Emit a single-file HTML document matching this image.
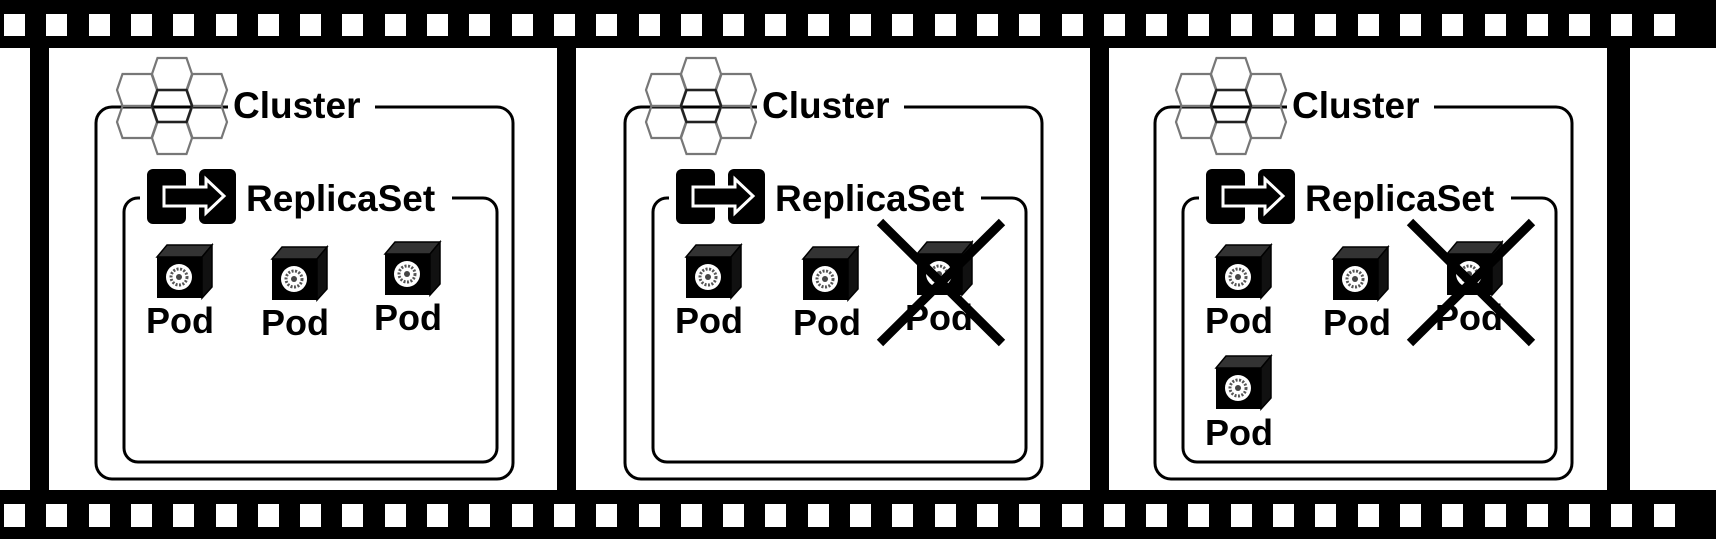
<!DOCTYPE html>
<html><head><meta charset="utf-8"><style>
html,body{margin:0;padding:0;background:#fff;}
svg{display:block;}
text{font-family:"Liberation Sans",sans-serif;fill:#000;font-weight:bold;}
</style></head><body>
<svg width="1716" height="539" viewBox="0 0 1716 539" xmlns="http://www.w3.org/2000/svg">
<defs>
  <polygon id="hexs" points="-20,0 -14.5,-16 14.5,-16 20,0 14.5,16 -14.5,16" fill="none" stroke="#777" stroke-width="2.2"/>
  <polygon id="hexc" points="-20,0 -14.5,-16 14.5,-16 20,0 14.5,16 -14.5,16" fill="none" stroke="#222" stroke-width="2.5"/>
  <g id="hexes">
    <use href="#hexs" x="137" y="90"/><use href="#hexs" x="137" y="122"/>
    <use href="#hexs" x="207" y="90"/><use href="#hexs" x="207" y="122"/>
    <use href="#hexs" x="172" y="74"/><use href="#hexs" x="172" y="138"/>
    <use href="#hexc" x="172" y="106"/>
  </g>
  <g id="rs">
    <rect x="147" y="169" width="39" height="55" rx="6" fill="#000"/>
    <rect x="199" y="169" width="37" height="55" rx="6" fill="#000"/>
    <polygon points="164,187 206,187 206,179 224,196 206,213 206,206 164,206" fill="#000" stroke="#fff" stroke-width="3"/>
  </g>
  <g id="pod">
    <polygon points="0,12 10,0 55,0 45,12" fill="#333" stroke="#000" stroke-width="1.5"/>
    <polygon points="45,12 55,0 55,42 45,53" fill="#111" stroke="#000" stroke-width="1.5"/>
    <rect x="0" y="12" width="45" height="41" fill="#000"/>
    <circle cx="22" cy="32" r="13" fill="#fff"/>
    <circle cx="22" cy="32" r="8" fill="none" stroke="#555" stroke-width="3" stroke-dasharray="2 1.5"/>
    <circle cx="22" cy="32" r="3" fill="#444"/>
  </g>
  <g id="frame">
    <rect x="96" y="107" width="417" height="372" rx="16" fill="none" stroke="#000" stroke-width="3"/>
    <rect x="228" y="95" width="147" height="25" fill="#fff"/>
    <use href="#hexes"/>
    <text x="233" y="118" font-size="37">Cluster</text>
    <rect x="124" y="198" width="373" height="264" rx="14" fill="none" stroke="#000" stroke-width="3"/>
    <rect x="140" y="185" width="312" height="25" fill="#fff"/>
    <use href="#rs"/>
    <text x="246" y="211" font-size="37">ReplicaSet</text>
  </g>
</defs>

<rect x="0" y="0" width="1716" height="48" fill="#000"/>
<rect x="0" y="490" width="1716" height="49" fill="#000"/>
<rect x="30" y="40" width="19" height="460" fill="#000"/>
<rect x="557" y="40" width="19" height="460" fill="#000"/>
<rect x="1090" y="40" width="19" height="460" fill="#000"/>
<rect x="1607" y="40" width="23" height="460" fill="#000"/>

<use href="#frame"/>
<use href="#pod" x="157" y="245"/><text x="146" y="333" font-size="36">Pod</text>
<use href="#pod" x="272" y="247"/><text x="261" y="335" font-size="36">Pod</text>
<use href="#pod" x="385" y="242"/><text x="374" y="330" font-size="36">Pod</text>

<g transform="translate(529,0)">
<use href="#frame"/>
<use href="#pod" x="157" y="245"/><text x="146" y="333" font-size="36">Pod</text>
<use href="#pod" x="274" y="247"/><text x="264" y="335" font-size="36">Pod</text>
<use href="#pod" x="388" y="242"/><text x="376" y="330" font-size="36">Pod</text>
<path d="M351,222 L473,343 M473,222 L351,343" stroke="#000" stroke-width="9"/>
</g>

<g transform="translate(1059,0)">
<use href="#frame"/>
<use href="#pod" x="157" y="245"/><text x="146" y="333" font-size="36">Pod</text>
<use href="#pod" x="274" y="247"/><text x="264" y="335" font-size="36">Pod</text>
<use href="#pod" x="388" y="242"/><text x="376" y="330" font-size="36">Pod</text>
<path d="M351,222 L473,343 M473,222 L351,343" stroke="#000" stroke-width="9"/>
<use href="#pod" x="157" y="356"/><text x="146" y="445" font-size="36">Pod</text>
</g>

<g fill="#fff">
<rect x="4" y="14" width="21" height="22"/><rect x="46" y="14" width="21" height="22"/><rect x="89" y="14" width="21" height="22"/><rect x="131" y="14" width="21" height="22"/><rect x="173" y="14" width="21" height="22"/><rect x="216" y="14" width="21" height="22"/><rect x="258" y="14" width="21" height="22"/><rect x="300" y="14" width="21" height="22"/><rect x="342" y="14" width="21" height="22"/><rect x="385" y="14" width="21" height="22"/><rect x="427" y="14" width="21" height="22"/><rect x="469" y="14" width="21" height="22"/><rect x="512" y="14" width="21" height="22"/><rect x="554" y="14" width="21" height="22"/><rect x="596" y="14" width="21" height="22"/><rect x="639" y="14" width="21" height="22"/><rect x="681" y="14" width="21" height="22"/><rect x="723" y="14" width="21" height="22"/><rect x="765" y="14" width="21" height="22"/><rect x="808" y="14" width="21" height="22"/><rect x="850" y="14" width="21" height="22"/><rect x="892" y="14" width="21" height="22"/><rect x="935" y="14" width="21" height="22"/><rect x="977" y="14" width="21" height="22"/><rect x="1019" y="14" width="21" height="22"/><rect x="1062" y="14" width="21" height="22"/><rect x="1104" y="14" width="21" height="22"/><rect x="1146" y="14" width="21" height="22"/><rect x="1188" y="14" width="21" height="22"/><rect x="1231" y="14" width="21" height="22"/><rect x="1273" y="14" width="21" height="22"/><rect x="1315" y="14" width="21" height="22"/><rect x="1358" y="14" width="21" height="22"/><rect x="1400" y="14" width="21" height="22"/><rect x="1442" y="14" width="21" height="22"/><rect x="1485" y="14" width="21" height="22"/><rect x="1527" y="14" width="21" height="22"/><rect x="1569" y="14" width="21" height="22"/><rect x="1611" y="14" width="21" height="22"/><rect x="1654" y="14" width="21" height="22"/>
<rect x="4" y="504" width="21" height="23"/><rect x="46" y="504" width="21" height="23"/><rect x="89" y="504" width="21" height="23"/><rect x="131" y="504" width="21" height="23"/><rect x="173" y="504" width="21" height="23"/><rect x="216" y="504" width="21" height="23"/><rect x="258" y="504" width="21" height="23"/><rect x="300" y="504" width="21" height="23"/><rect x="342" y="504" width="21" height="23"/><rect x="385" y="504" width="21" height="23"/><rect x="427" y="504" width="21" height="23"/><rect x="469" y="504" width="21" height="23"/><rect x="512" y="504" width="21" height="23"/><rect x="554" y="504" width="21" height="23"/><rect x="596" y="504" width="21" height="23"/><rect x="639" y="504" width="21" height="23"/><rect x="681" y="504" width="21" height="23"/><rect x="723" y="504" width="21" height="23"/><rect x="765" y="504" width="21" height="23"/><rect x="808" y="504" width="21" height="23"/><rect x="850" y="504" width="21" height="23"/><rect x="892" y="504" width="21" height="23"/><rect x="935" y="504" width="21" height="23"/><rect x="977" y="504" width="21" height="23"/><rect x="1019" y="504" width="21" height="23"/><rect x="1062" y="504" width="21" height="23"/><rect x="1104" y="504" width="21" height="23"/><rect x="1146" y="504" width="21" height="23"/><rect x="1188" y="504" width="21" height="23"/><rect x="1231" y="504" width="21" height="23"/><rect x="1273" y="504" width="21" height="23"/><rect x="1315" y="504" width="21" height="23"/><rect x="1358" y="504" width="21" height="23"/><rect x="1400" y="504" width="21" height="23"/><rect x="1442" y="504" width="21" height="23"/><rect x="1485" y="504" width="21" height="23"/><rect x="1527" y="504" width="21" height="23"/><rect x="1569" y="504" width="21" height="23"/><rect x="1611" y="504" width="21" height="23"/><rect x="1654" y="504" width="21" height="23"/>
</g>
</svg>
</body></html>
